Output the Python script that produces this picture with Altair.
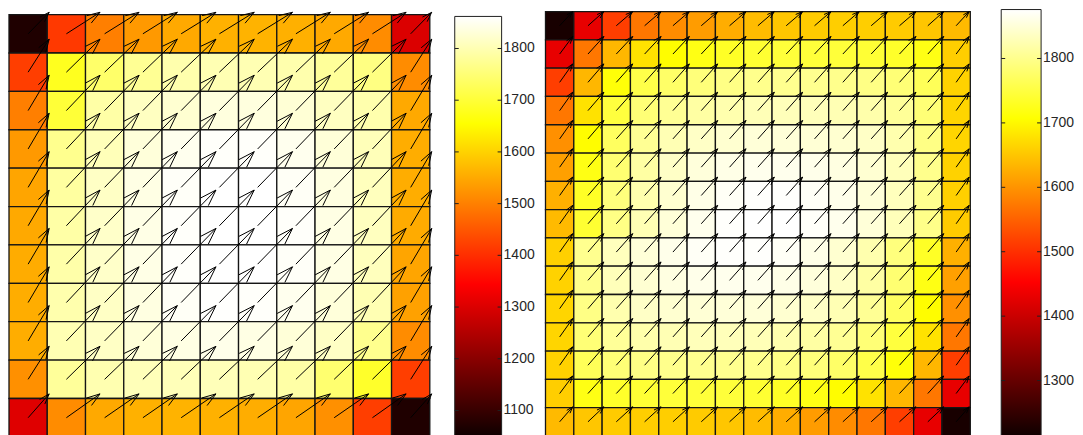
import altair as alt
import pandas as pd

# ---------------- data ----------------
HEAT_LEFT = [
    [1070, 1413, 1499, 1530, 1550, 1560, 1562, 1558, 1550, 1515, 1300],
    [1420, 1680, 1740, 1775, 1795, 1800, 1800, 1795, 1780, 1760, 1515],
    [1499, 1700, 1790, 1812, 1825, 1835, 1835, 1828, 1812, 1795, 1550],
    [1530, 1770, 1805, 1832, 1848, 1858, 1858, 1848, 1830, 1805, 1555],
    [1545, 1785, 1815, 1840, 1856, 1862, 1862, 1855, 1838, 1808, 1555],
    [1550, 1790, 1818, 1842, 1858, 1862, 1862, 1858, 1840, 1810, 1552],
    [1553, 1792, 1818, 1842, 1858, 1862, 1862, 1856, 1840, 1808, 1545],
    [1555, 1795, 1815, 1838, 1855, 1860, 1858, 1848, 1832, 1800, 1540],
    [1555, 1800, 1815, 1830, 1840, 1845, 1840, 1830, 1815, 1770, 1515],
    [1520, 1780, 1798, 1805, 1805, 1805, 1800, 1790, 1745, 1690, 1420],
    [1305, 1515, 1550, 1560, 1562, 1560, 1555, 1545, 1520, 1420, 1070],
]

HEAT_RIGHT = [
    [1223, 1430, 1515, 1572, 1592, 1608, 1625, 1640, 1650, 1655, 1658, 1658, 1655, 1650, 1638],
    [1430, 1572, 1635, 1678, 1705, 1720, 1732, 1740, 1745, 1745, 1745, 1742, 1735, 1720, 1658],
    [1515, 1635, 1712, 1755, 1775, 1788, 1795, 1800, 1802, 1802, 1800, 1795, 1785, 1765, 1662],
    [1572, 1678, 1748, 1785, 1805, 1815, 1822, 1828, 1830, 1830, 1826, 1820, 1808, 1785, 1665],
    [1596, 1705, 1770, 1805, 1826, 1838, 1845, 1850, 1850, 1848, 1845, 1838, 1822, 1795, 1665],
    [1612, 1720, 1782, 1815, 1838, 1852, 1860, 1864, 1864, 1862, 1856, 1846, 1830, 1800, 1662],
    [1628, 1732, 1790, 1822, 1845, 1860, 1870, 1874, 1874, 1870, 1862, 1850, 1832, 1802, 1660],
    [1638, 1740, 1795, 1826, 1850, 1864, 1874, 1876, 1876, 1872, 1864, 1850, 1830, 1798, 1655],
    [1660, 1802, 1832, 1850, 1862, 1870, 1874, 1874, 1870, 1860, 1845, 1822, 1790, 1732, 1628],
    [1662, 1800, 1830, 1846, 1856, 1862, 1864, 1864, 1860, 1852, 1838, 1815, 1782, 1720, 1612],
    [1665, 1795, 1822, 1838, 1845, 1848, 1850, 1850, 1845, 1838, 1826, 1805, 1770, 1705, 1596],
    [1665, 1785, 1808, 1820, 1826, 1830, 1830, 1828, 1822, 1815, 1805, 1785, 1748, 1678, 1572],
    [1662, 1765, 1785, 1795, 1800, 1802, 1802, 1800, 1795, 1788, 1775, 1755, 1712, 1635, 1515],
    [1658, 1720, 1735, 1742, 1745, 1745, 1745, 1740, 1732, 1720, 1705, 1678, 1635, 1572, 1430],
    [1638, 1650, 1655, 1658, 1658, 1655, 1650, 1640, 1625, 1608, 1592, 1572, 1515, 1430, 1223],
]

# arrow components (in cell units): x-component per column, upward component per row
U_LEFT_COLS = [0.55, 0.88, 0.90, 0.90, 0.91, 0.91, 0.91, 0.90, 0.90, 0.88, 0.55]
V_LEFT_ROWS = [0.56, 0.86, 0.92, 0.93, 0.93, 0.93, 0.93, 0.93, 0.92, 0.86, 0.62]
U_RIGHT_COLS = [0.46, 0.56, 0.58, 0.58, 0.58, 0.58, 0.58, 0.58, 0.58, 0.58, 0.58, 0.58, 0.58, 0.56, 0.46]
V_RIGHT_ROWS = [0.50, 0.62, 0.65, 0.65, 0.65, 0.65, 0.65, 0.65, 0.65, 0.65, 0.65, 0.65, 0.65, 0.62, 0.53]

TICKS_LEFT = [1100, 1200, 1300, 1400, 1500, 1600, 1700, 1800]
TICKS_RIGHT = [1300, 1400, 1500, 1600, 1700, 1800]

CBAR_LEFT = [1046, 1862]     # colour range shown by the left colour bar
CBAR_RIGHT = [1210, 1876]    # colour range shown by the right colour bar

# MATLAB "hot" colormap breakpoints
HOT_STOPS = [0.0, 0.365, 0.746, 1.0]
HOT_COLORS = ["#0b0000", "#ff0000", "#ffff00", "#ffffff"]

# ---------------- layout ----------------
H = 430
FONT = "Liberation Sans"


def heat_df(mat):
    recs = []
    for r, row in enumerate(mat):
        for c, v in enumerate(row):
            recs.append({"c": c, "c2": c + 1, "r": r, "r2": r + 1, "v": v})
    return pd.DataFrame(recs)


def arrow_df(U, V, alpha=0.33, beta=0.33):
    recs = []
    for r, v in enumerate(V):
        for c, u in enumerate(U):
            x0, y0 = c + 0.5, r + 0.5
            hx, hy = x0 + u, y0 - v
            recs.append({"x": x0, "y": y0, "x2": hx, "y2": hy})
            b1x = hx - alpha * (u + beta * v)
            b1y = hy + alpha * (v - beta * u)
            b2x = hx - alpha * (u - beta * v)
            b2y = hy + alpha * (v + beta * u)
            recs.append({"x": hx, "y": hy, "x2": b1x, "y2": b1y})
            recs.append({"x": hx, "y": hy, "x2": b2x, "y2": b2y})
    return pd.DataFrame(recs)


def heat_panel(mat, U, V, cbar, width, xdom, ydom):
    lo, hi = cbar
    cscale = alt.Scale(domain=[lo + f * (hi - lo) for f in HOT_STOPS],
                       range=HOT_COLORS, interpolate="rgb", clamp=True)
    xs = alt.Scale(domain=xdom, nice=False, zero=False)
    ys = alt.Scale(domain=ydom, nice=False, zero=False, reverse=True)
    rect = alt.Chart(heat_df(mat)).mark_rect(stroke="#151515", strokeWidth=1.3).encode(
        x=alt.X("c:Q", scale=xs, axis=None),
        x2="c2:Q",
        y=alt.Y("r:Q", scale=ys, axis=None),
        y2="r2:Q",
        color=alt.Color("v:Q", scale=cscale, legend=None),
    )
    arrows = alt.Chart(arrow_df(U, V)).mark_rule(color="black", strokeWidth=1).encode(
        x=alt.X("x:Q", axis=None),
        x2="x2:Q",
        y=alt.Y("y:Q", axis=None),
        y2="y2:Q",
    )
    return alt.layer(rect, arrows).properties(width=width, height=H)


def cbar_panel(cbar, ticks, ydom, bar_px, width):
    lo, hi = cbar
    xs = alt.Scale(domain=[0, width / bar_px], nice=False, zero=False)
    ys = alt.Scale(domain=ydom, nice=False, zero=False)
    grad = {
        "gradient": "linear", "x1": 0, "y1": 1, "x2": 0, "y2": 0,
        "stops": [{"offset": f, "color": c} for f, c in zip(HOT_STOPS, HOT_COLORS)],
    }
    bar = alt.Chart(pd.DataFrame({"x": [0], "x2": [1], "lo": [lo], "hi": [hi]})).mark_rect(
        fill=grad, stroke="#202020", strokeWidth=1
    ).encode(
        x=alt.X("x:Q", scale=xs, axis=None), x2="x2:Q",
        y=alt.Y("lo:Q", scale=ys, axis=None), y2="hi:Q",
    )
    tl = 4.0 / bar_px
    trecs = []
    for t in ticks:
        trecs.append({"a": 0.0, "b": tl, "t": t})
        trecs.append({"a": 1.0 - tl, "b": 1.0, "t": t})
    tick_rules = alt.Chart(pd.DataFrame(trecs)).mark_rule(color="#202020", strokeWidth=1).encode(
        x=alt.X("a:Q", axis=None), x2="b:Q", y=alt.Y("t:Q", axis=None)
    )
    labels = alt.Chart(pd.DataFrame({"t": ticks, "lx": [1] * len(ticks),
                                     "lab": [str(t) for t in ticks]})).mark_text(
        align="left", baseline="middle", dx=2, fontSize=14, font=FONT, color="#262626"
    ).encode(
        x=alt.X("lx:Q", axis=None), y=alt.Y("t:Q", axis=None), text="lab:N"
    )
    return alt.layer(bar, tick_rules, labels).properties(width=width, height=H)


left = heat_panel(HEAT_LEFT, U_LEFT_COLS, V_LEFT_ROWS, CBAR_LEFT, 447,
                  [0, 11 * 447 / 422], [-5 / 38.5, (H - 5) / 38.5])
left_bar = cbar_panel(CBAR_LEFT, TICKS_LEFT, [1046.0, 1875.2], 47, 91)
right = heat_panel(HEAT_RIGHT, U_RIGHT_COLS, V_RIGHT_ROWS, CBAR_RIGHT, 457,
                   [0, 15 * 457 / 426], [-2 / 28.37, (H - 2) / 28.37])
right_bar = cbar_panel(CBAR_RIGHT, TICKS_RIGHT, [1210.2, 1875.9], 40, 72)

chart = alt.hconcat(left, left_bar, right, right_bar, spacing=0, bounds="flush").resolve_scale(
    color="independent", x="independent", y="independent"
).properties(
    padding={"left": 0, "top": 0, "right": 0, "bottom": 0},
    background="white",
).configure_view(strokeWidth=0)

chart.save("out.html", embed_options={"renderer": "svg", "actions": False})
